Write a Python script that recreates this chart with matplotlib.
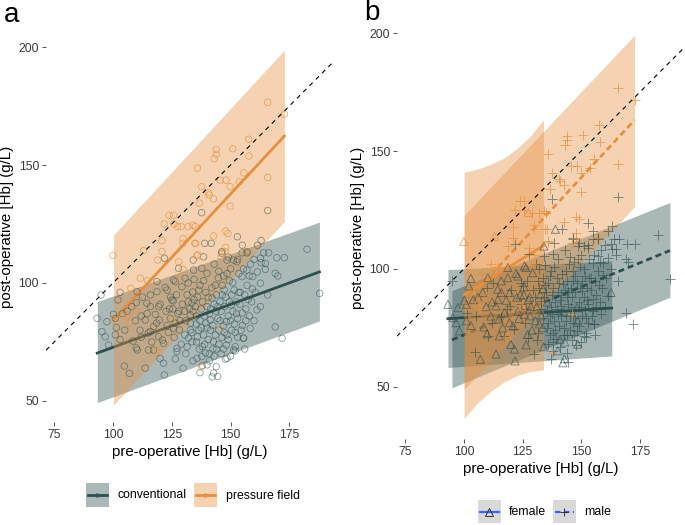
import numpy as np
import matplotlib
matplotlib.use("Agg")
import matplotlib.pyplot as plt
from matplotlib.patches import Rectangle
from matplotlib.lines import Line2D

plt.rcParams['font.family'] = ['Liberation Sans', 'DejaVu Sans']

# -----------------------
# colours
# -----------------------
C_CONV = '#2F4F4F'
C_PF = '#E6903E'
C_BLUE = '#3366FF'

# -----------------------
# data: conventional group (pre, post, sex)
# -----------------------
conv_pre = [93.2, 95.3, 96.7, 94.9, 98.1, 97.4, 101.0, 101.4, 102.1, 104.8,
            107.0, 109.9, 109.9, 113.7, 115.0, 114.4, 117.2, 121.0, 121.8, 119.7,
            123.0, 125.1, 125.8, 129.8, 127.2, 132.1, 135.7, 140.0, 142.2, 143.9,
            148.5, 151.3, 155.6, 158.4, 162.7, 169.0, 171.9, 187.9, 169.0, 164.8,
            137.7, 165.8, 139.0, 141.8, 152.9, 182.5, 164.1, 166.2, 162.7, 163.0,
            169.7, 172.9, 154.9, 157.0, 151.3, 146.3, 164.8, 161.4, 159.4, 170.1,
            159.3, 162.7, 165.8, 161.2, 147.8, 152.0, 154.9, 100.2, 101.0, 108.5,
            110.3, 113.7, 115.9, 118.0, 115.9, 117.3, 115.1, 119.4, 121.5, 121.5,
            122.2, 125.6, 124.4, 128.2, 127.2, 126.5, 133.9, 133.6, 132.9, 135.4,
            132.9, 135.9, 133.6, 136.7, 139.3, 140.0, 141.4, 143.9, 142.1, 147.3,
            150.3, 148.2, 151.6, 146.3, 148.2, 142.7, 151.0, 144.8, 140.0, 137.8,
            134.1, 138.5, 126.5, 130.7, 129.3, 118.7, 110.2, 154.1, 155.0, 155.4,
            152.0, 137.8, 121.9, 115.9, 132.0, 134.5, 137.0, 146.3, 148.5, 152.7,
            157.0, 157.0, 134.3, 127.9, 125.8, 118.7, 130.5, 131.0, 132.0, 133.0,
            134.0, 135.0, 135.5, 136.0, 136.5, 137.0, 137.5, 138.0, 138.5, 139.0,
            139.5, 140.0, 140.5, 141.0, 141.5, 142.0, 142.5, 143.0, 143.5, 144.0,
            144.5, 145.0, 145.5, 146.0, 146.5, 147.0, 147.5, 148.0, 148.5, 149.0,
            149.5, 150.0, 150.5, 151.0, 152.0, 152.5, 153.0, 153.5, 154.0, 155.0,
            156.0, 156.5, 157.0, 158.0, 159.0, 160.0, 131.0, 134.0, 138.0, 141.0,
            144.0, 146.0, 137.0, 128.0, 127.0, 124.0, 120.0, 123.0, 126.0, 129.0,
            112.0, 106.0, 105.0, 103.0, 120.0, 112.0, 144.5, 142.8,
            131.5, 132.5, 133.5, 134.5, 135.5, 136.5, 137.5, 138.5, 139.5, 140.5,
            141.5, 142.5, 143.5, 144.5, 145.5, 146.5, 147.5, 148.5, 149.5, 150.5,
            151.5, 152.5, 153.5, 154.5, 155.5, 156.5, 157.5, 158.5, 160.5, 161.5,
            143.0, 145.0, 147.0, 149.0, 150.0, 153.0, 155.0, 158.0, 160.0, 163.0,
            128.5, 129.5, 130.5, 131.5, 127.5, 126.5, 125.5, 124.5, 123.5, 122.5,
            119.5, 118.5, 116.5, 114.5, 112.5, 111.5, 109.5, 108.0, 104.0, 103.0,
            139.0, 141.0, 143.0, 145.0, 147.0, 149.0, 150.0, 153.0, 156.0, 138.0]
conv_post = [85.0, 79.4, 77.2, 94.9, 73.7, 83.6, 85.0, 81.1, 92.8, 64.8,
             61.7, 72.5, 91.7, 63.9, 78.8, 91.4, 71.6, 75.8, 61.0, 84.3,
             97.0, 92.8, 80.8, 63.9, 72.3, 76.7, 68.1, 65.3, 60.2, 64.5,
             68.1, 71.6, 76.6, 80.8, 90.0, 81.4, 76.6, 95.6, 104.1, 108.3,
             129.8, 130.7, 116.8, 116.8, 119.6, 114.3, 112.8, 112.8, 110.5, 108.6,
             110.7, 110.7, 112.8, 112.8, 109.7, 112.6, 105.8, 104.7, 102.7, 103.0,
             97.5, 99.9, 94.9, 88.6, 67.7, 73.0, 102.7, 86.7, 78.0, 75.4,
             71.6, 84.3, 90.0, 86.7, 79.4, 81.5, 71.6, 77.2, 74.4, 66.0,
             98.1, 92.4, 85.0, 80.1, 70.9, 67.8, 96.2, 91.5, 86.4, 82.6,
             80.1, 77.2, 75.1, 72.0, 70.3, 81.0, 84.3, 88.1, 93.6, 97.0,
             90.7, 83.6, 82.6, 76.9, 73.7, 75.1, 100.1, 102.1, 104.1, 106.2,
             109.7, 111.1, 100.6, 102.0, 98.4, 100.6, 96.3, 96.0, 87.3, 76.7,
             71.2, 68.8, 110.5, 94.9, 100.0, 101.5, 99.0, 113.3, 109.7, 109.0,
             113.3, 105.5, 105.5, 106.2, 101.3, 96.3, 88.0, 84.0, 92.0, 83.0,
             88.0, 90.0, 86.0, 94.0, 80.0, 84.0, 89.0, 92.0, 78.0, 86.0,
             96.0, 90.0, 76.0, 87.0, 80.0, 98.0, 82.0, 91.0, 78.0, 95.0,
             85.0, 80.0, 92.0, 88.0, 99.0, 82.0, 90.0, 94.0, 78.0, 86.0,
             101.0, 84.0, 95.0, 88.0, 79.0, 92.0, 85.0, 104.0, 91.0, 82.0,
             95.0, 89.0, 99.0, 86.0, 92.0, 84.0, 70.0, 67.0, 73.0, 70.0,
             72.0, 70.0, 62.0, 88.0, 95.0, 89.0, 91.0, 82.0, 77.0, 74.0,
             86.0, 88.0, 80.0, 76.0, 68.0, 77.0, 60.4, 61.9,
             95.0, 89.0, 79.0, 93.0, 75.0, 97.0, 81.0, 101.0, 83.0, 94.0,
             89.0, 72.0, 99.0, 90.0, 84.0, 95.0, 79.0, 104.0, 92.0, 80.0,
             97.0, 87.0, 96.0, 80.0, 106.0, 84.0, 93.0, 108.0, 96.0, 116.0,
             108.0, 105.0, 103.0, 111.0, 106.0, 110.0, 116.0, 103.0, 110.0, 118.0,
             84.0, 91.0, 78.0, 73.0, 87.0, 83.0, 89.0, 94.0, 79.0, 88.0,
             90.0, 83.0, 75.0, 87.0, 94.0, 80.0, 84.0, 90.0, 87.0, 96.0,
             74.0, 67.0, 69.0, 74.0, 72.0, 76.0, 69.0, 77.0, 72.0, 65.0]
conv_sex = list("fffmfffmfm" "ffmfffmffm" "fmfmffmffm" "fmmmfmmmmm"
                "mmfmmmmmmm" "mmmmmmmmmm" "mmmmmmmfff" "mfffmfffmf"
                "ffmfmfmfmm" "fmfmmmmmmm" "mfmmmmmmmm" "fmfmfffmmm"
                "mmmfmmmmmm" "mmmmffmfmm" "mmfmmmmmmm" "mmmmmmfmmm"
                "mmmmmmmmfm" "mmmmmmmmmm" "mmmmmmmfmf" "mmmfmfmfmf"
                "ffmffmmf"
                "mfmmmmmmmm" "mmmmmmmmmm" "mmmmmmmmmm" "mmmmmmmmmm"
                "fmfmfmfmff" "fmffmfffff" "mmfmmmmmmm")

# -----------------------
# data: pressure field group (pre, post, sex)
# -----------------------
pf_pre = [165.8, 172.9, 157.7, 157.8, 150.9, 143.9, 143.9, 143.0, 135.9, 155.6,
          165.8, 145.6, 148.1, 153.7, 149.8, 137.7, 140.5, 140.9, 142.8, 136.8,
          149.8, 123.9, 125.8, 121.8, 125.8, 127.5, 129.0, 131.9, 134.0, 135.0,
          129.8, 120.8, 147.9, 148.9, 142.8, 147.9, 135.2, 113.0, 129.7, 120.8,
          119.0, 127.9, 135.7, 147.8, 146.0, 100.0, 111.6, 114.7, 129.8, 128.6,
          105.9, 107.0, 100.2, 145.9, 107.6, 109.9, 134.7, 136.0, 137.6, 124.7,
          118.7, 106.6, 156.7]
pf_post = [176.6, 171.6, 160.9, 153.8, 156.9, 156.5, 154.5, 152.7, 148.7, 146.7,
           144.7, 143.6, 143.6, 142.9, 140.8, 140.8, 138.3, 137.3, 135.7, 133.8,
           132.6, 128.7, 128.7, 125.0, 125.0, 123.9, 123.9, 123.9, 124.5, 123.9,
           118.8, 117.9, 122.0, 121.0, 119.9, 115.1, 116.8, 113.7, 116.8, 113.3,
           109.7, 109.0, 111.6, 113.3, 110.9, 111.7, 102.0, 101.0, 105.8, 102.0,
           85.7, 82.9, 84.3, 80.8, 97.7, 88.6, 116.8, 111.9, 64.5, 84.0,
           71.6, 86.4, 113.3]
pf_sex = list("mmmmmmmmmm" "mmmmmmmmmm" "mmmmmfmmmm" "mmmmmmmfmm"
              "mmmmmfmmmm" "fmfmmfmmmf" "fmm")

# -----------------------
# fitted lines and ribbons
# -----------------------
# panel a
a_conv_x = [93.3, 187.8]
a_conv_fit = [70.3, 104.7]
a_conv_lo = [49.3, 83.9]
a_conv_hi = [92.1, 125.8]
a_pf_x = [100.2, 172.9]
a_pf_fit = [84.3, 162.3]
a_pf_lo = [48.3, 126.0]
a_pf_hi = [120.3, 198.7]

# panel b
b_convF_x = [93.2, 163.0]
b_convF_fit = [78.9, 83.4]
b_convF_lo = [58.2, 63.1]
b_convF_hi = [99.7, 103.5]
b_convM_x = [94.9, 187.8]
b_convM_fit = [69.9, 107.8]
b_convM_lo = [49.6, 88.0]
b_convM_hi = [90.8, 128.2]
b_pfM_x = [100.1, 172.7]
b_pfM_fit = [85.2, 163.1]
b_pfM_lo = [48.9, 126.4]
b_pfM_hi = [122.7, 199.1]
b_pfF_x = [100.1, 105.7, 111.3, 117.0, 122.6, 128.3, 133.9]
b_pfF_fit = [89.0, 92.4, 95.9, 99.4, 102.9, 106.4, 109.9]
b_pfF_lo = [36.5, 43.0, 48.0, 52.0, 54.8, 56.5, 57.2]
b_pfF_hi = [141.0, 142.3, 144.3, 147.0, 151.0, 156.3, 163.3]

XTICKS = [75, 100, 125, 150, 175]
YTICKS = [50, 100, 150, 200]
XLIM = (71.5, 194.0)

W, H = 685, 525
fig = plt.figure(figsize=(6.85, 5.25), dpi=100)


def px_axes(x0, y0, x1, y1):
    return fig.add_axes([x0 / W, 1 - y1 / H, (x1 - x0) / W, (y1 - y0) / H])


def style(ax, ylim):
    ax.set_xlim(*XLIM)
    ax.set_ylim(*ylim)
    for s in ax.spines.values():
        s.set_visible(False)
    ax.set_xticks(XTICKS)
    ax.set_yticks(YTICKS)
    ax.tick_params(length=3, width=0.6, color='#333333', pad=2,
                   labelsize=8.8, labelcolor='#3a3a3a')
    ax.set_xlabel('pre-operative [Hb] (g/L)', fontsize=10.8, labelpad=3)
    ax.set_ylabel('post-operative [Hb] (g/L)', fontsize=10.8, labelpad=3)
    ax.set_facecolor('none')


def smooth(ax, x, fit, lo, hi, col, ls='-'):
    ax.fill_between(x, lo, hi, color=col, alpha=0.4, lw=0, zorder=2)
    if ls == '--':
        ax.plot(x, fit, color=col, lw=2.0, ls='--', dashes=(2.2, 1.4), zorder=2)
    else:
        ax.plot(x, fit, color=col, lw=2.0, zorder=2)


def identity(ax):
    ax.plot(XLIM, XLIM, color='black', lw=0.8, ls=(0, (4, 4)), zorder=5)


# -----------------------
# panel a
# -----------------------
axA = px_axes(46, 31.7, 334, 422.2)
style(axA, (41, 206.5))
axA.scatter(conv_pre, conv_post, s=22, facecolors='none', edgecolors=C_CONV,
            linewidths=0.6, alpha=0.55, zorder=3)
axA.scatter(pf_pre, pf_post, s=22, facecolors='none', edgecolors=C_PF,
            linewidths=0.6, alpha=0.7, zorder=3)
smooth(axA, a_conv_x, a_conv_fit, a_conv_lo, a_conv_hi, C_CONV)
smooth(axA, a_pf_x, a_pf_fit, a_pf_lo, a_pf_hi, C_PF)
identity(axA)

# -----------------------
# panel b
# -----------------------
axB = px_axes(397, 16.6, 684.5, 438.7)
style(axB, (28, 207))
conv_pre_a = np.array(conv_pre)
conv_post_a = np.array(conv_post)
pf_pre_a = np.array(pf_pre)
pf_post_a = np.array(pf_post)
cf = np.array(conv_sex) == 'f'
pff = np.array(pf_sex) == 'f'
axB.scatter(conv_pre_a[cf], conv_post_a[cf], s=34, marker='^', facecolors='none',
            edgecolors=C_CONV, linewidths=0.7, alpha=0.6, zorder=3)
axB.scatter(conv_pre_a[~cf], conv_post_a[~cf], s=50, marker='+', color=C_CONV,
            linewidths=0.7, alpha=0.6, zorder=3)
axB.scatter(pf_pre_a[pff], pf_post_a[pff], s=34, marker='^', facecolors='none',
            edgecolors=C_PF, linewidths=0.7, alpha=0.7, zorder=3)
axB.scatter(pf_pre_a[~pff], pf_post_a[~pff], s=50, marker='+', color=C_PF,
            linewidths=0.7, alpha=0.7, zorder=3)
smooth(axB, b_convF_x, b_convF_fit, b_convF_lo, b_convF_hi, C_CONV)
smooth(axB, b_convM_x, b_convM_fit, b_convM_lo, b_convM_hi, C_CONV, ls='--')
smooth(axB, b_pfM_x, b_pfM_fit, b_pfM_lo, b_pfM_hi, C_PF, ls='--')
smooth(axB, b_pfF_x, b_pfF_fit, b_pfF_lo, b_pfF_hi, C_PF)
identity(axB)

# -----------------------
# panel letters and legends (pixel overlay)
# -----------------------
ov = fig.add_axes([0, 0, 1, 1], zorder=10)
ov.set_xlim(0, W)
ov.set_ylim(H, 0)
ov.axis('off')
ov.patch.set_alpha(0)

ov.text(4, 22, 'a', fontsize=20, va='baseline')
ov.text(364, 20, 'b', fontsize=20, va='baseline')

legend_a = [('conventional', C_CONV, 86), ('pressure field', C_PF, 194)]
for lab, col, x0 in legend_a:
    ov.add_patch(Rectangle((x0, 483), 23, 24, color=col, alpha=0.4, lw=0))
    ov.add_line(Line2D([x0 + 2, x0 + 21], [495, 495], color=col, lw=2.0))
    ov.plot(x0 + 11.5, 495, marker='o', ms=3, mfc='none', mec=col, mew=0.6, alpha=0.6)
    ov.text(x0 + 32, 495.5, lab, fontsize=8.8, va='center', color='black')

legend_b = [('female', '^', '-', 478), ('male', '+', '--', 553)]
for lab, mk, ls, x0 in legend_b:
    ov.add_patch(Rectangle((x0, 500), 23, 23, color='#d9d9d9', lw=0))
    if ls == '--':
        ov.add_line(Line2D([x0 + 2, x0 + 21], [511.5, 511.5], color=C_BLUE,
                           lw=1.6, ls='--', dashes=(2.5, 1.5)))
    else:
        ov.add_line(Line2D([x0 + 2, x0 + 21], [511.5, 511.5], color=C_BLUE, lw=1.6))
    ov.plot(x0 + 11.5, 511.5, marker=mk, ms=5.5, mfc='none', mec='#333333', mew=0.7)
    ov.text(x0 + 31, 512, lab, fontsize=8.8, va='center', color='black')

fig.savefig('out.png', dpi=100)
